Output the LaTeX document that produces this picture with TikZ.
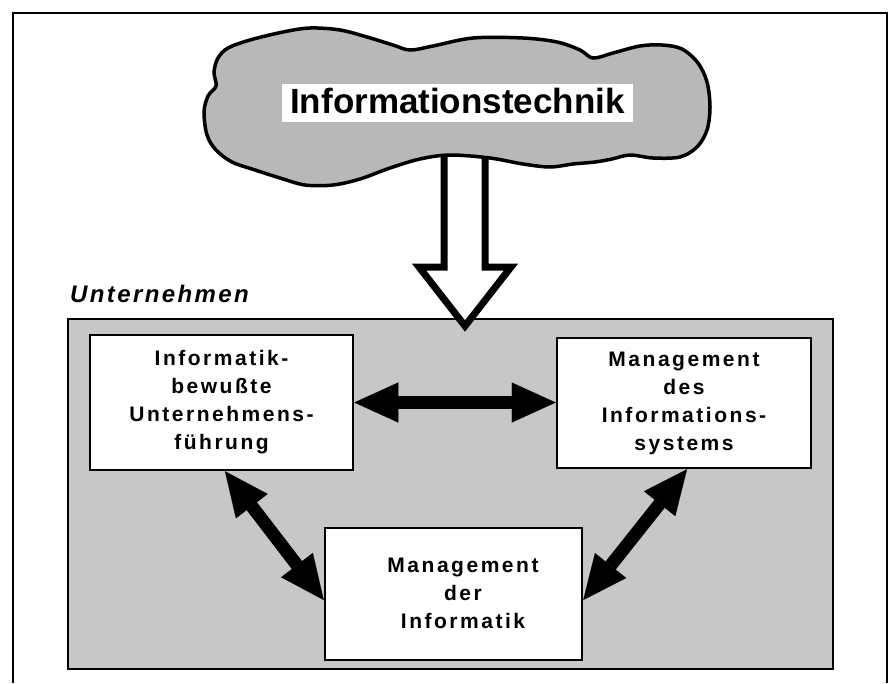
\documentclass[tikz,border=0pt]{standalone}
\usepackage{fontspec}
\setmainfont{Liberation Sans}
\newfontfamily\boxfont[LetterSpace=12]{Liberation Sans}
\newfontfamily\unfont[LetterSpace=10]{Liberation Sans}
\usetikzlibrary{arrows.meta,calc}
\definecolor{rectgray}{gray}{0.78}
\definecolor{cloudgray}{gray}{0.72}
\begin{document}
\begin{tikzpicture}[x=1pt,y=-1pt,line join=miter,
  box/.style={draw,line width=2.5pt,fill=white,rectangle,inner sep=0pt,align=center,
    font=\boxfont\bfseries\fontsize{21}{28}\selectfont},
  boxtext/.style={inner sep=0pt,align=center,font=\boxfont\bfseries\fontsize{21}{28}\selectfont},
  tipA/.tip={Triangle[length=44pt,width=40pt,line width=0.1pt]},
  dblarrow/.style={line width=13pt,tipA-tipA}]
\useasboundingbox (0,0) rectangle (889,683);
% outer frame (open at the bottom)
\draw[line width=2pt] (13,683) -- (13,13) -- (887,13) -- (887,683);
% Unternehmen
\node[anchor=base west,inner sep=0pt,font=\unfont\bfseries\itshape\fontsize{24}{24}\selectfont] (UL) at (70,302) {Unternehmen};
\node[draw,line width=2.5pt,fill=rectgray,minimum width=765pt,minimum height=350pt,inner sep=0pt] (UN) at (450.5,494) {};
% hollow arrow
\draw[line width=7pt,fill=white] (444,140) -- (444,267) -- (419,267) -- (465,326) -- (511,267) -- (485,267) -- (485,140) -- cycle;
% cloud
\draw[line width=3.5pt,fill=cloudgray] plot[smooth cycle,tension=0.55] coordinates {
 (204,112) (208,96) (216,86) (214,72) (218,58) (228,48) (250,40) (283,32) (310,28) (340,30)
 (367,37) (393,45) (410,50) (433,46) (473,38) (523,38) (557,42) (580,50) (593,58) (613,53)
 (640,46) (662,45) (682,49) (698,63) (707,82) (710,107) (707,130) (697,147) (680,157) (653,158)
 (630,155) (612,159) (595,162) (573,164) (550,167) (523,164) (490,158) (450,155) (420,159)
 (390,168) (360,179) (333,185) (305,185) (280,178) (255,170) (232,162) (216,150) (207,135)};
\node[fill=white,inner sep=0pt,minimum width=351pt,minimum height=38pt,text height=25pt,text depth=5pt,
  font=\bfseries\fontsize{35}{35}\selectfont] (IT) at (457.5,103) {Informationstechnik};
% boxes
\node[box,minimum width=263pt,minimum height=135pt] (L) at (221.5,402.5) {Informatik-\\bewußte\\Unternehmens-\\führung};
\node[box,minimum width=254pt,minimum height=130pt] (R) at (684,403) {Management\\des\\Informations-\\systems};
\node[box,minimum width=257pt,minimum height=132pt] (B) at (453.5,594) {};
\node[boxtext] (Bt) at (463,593) {Management\\der\\Informatik};
% connectors
\draw[dblarrow] (L.east) -- (L.east -| R.west);
\draw[dblarrow] ([xshift=3.5pt]L.south) -- ([yshift=-6pt]B.west);
\draw[dblarrow] ([xshift=3pt]R.south) -- ([yshift=-6pt]B.east);
\end{tikzpicture}
\end{document}
